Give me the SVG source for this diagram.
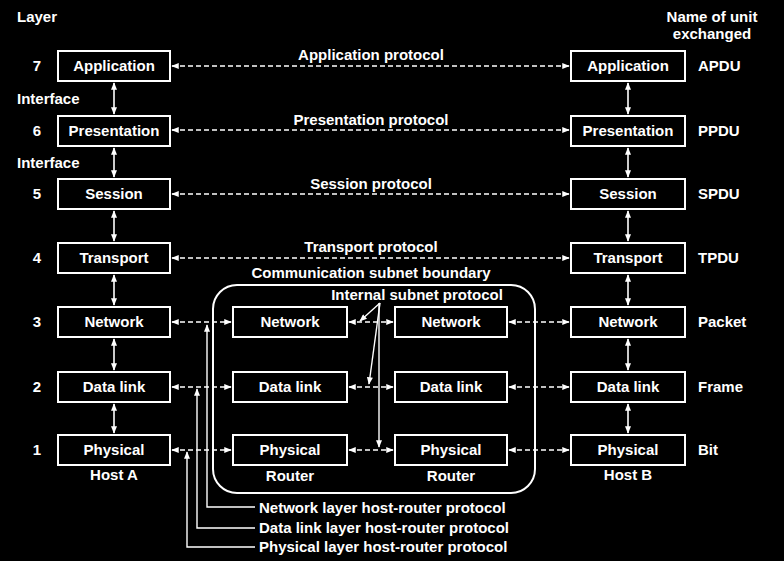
<svg xmlns="http://www.w3.org/2000/svg" width="784" height="561" viewBox="0 0 784 561">
<style>
text{font-family:"Liberation Sans",Arial,sans-serif;font-weight:bold;font-size:15px;fill:#fff}
.c{text-anchor:middle}
.box{fill:none;stroke:#fff;stroke-width:2}
.v{stroke:#fff;stroke-width:1.6;fill:none}
.d{stroke:#fff;stroke-width:1.6;fill:none;stroke-dasharray:5 3}
.s{stroke:#fff;stroke-width:1.4;fill:none}
</style>
<defs>
<marker id="a" viewBox="0 0 10 8" refX="9" refY="4" markerWidth="8" markerHeight="6" markerUnits="userSpaceOnUse" orient="auto-start-reverse">
<path d="M0,0 L10,4 L0,8 Z" fill="#fff"/>
</marker>
</defs>
<rect width="784" height="561" fill="#000"/>
<text x="17" y="22">Layer</text>
<text x="17" y="104">Interface</text>
<text x="17" y="168">Interface</text>
<text class="c" x="712" y="22">Name of unit</text>
<text class="c" x="712" y="39">exchanged</text>
<g id="nums">
<text class="c" x="37" y="71">7</text>
<text class="c" x="37" y="136">6</text>
<text class="c" x="37" y="199">5</text>
<text class="c" x="37" y="263">4</text>
<text class="c" x="37" y="327">3</text>
<text class="c" x="37" y="392">2</text>
<text class="c" x="37" y="455">1</text>
</g>
<g id="units">
<text x="698" y="71">APDU</text>
<text x="698" y="136">PPDU</text>
<text x="698" y="199">SPDU</text>
<text x="698" y="263">TPDU</text>
<text x="698" y="327">Packet</text>
<text x="698" y="392">Frame</text>
<text x="698" y="455">Bit</text>
</g>
<g id="subnet">
<rect x="213" y="285" width="322" height="208" rx="24" class="box"/>
<text class="c" x="371" y="278">Communication subnet boundary</text>
<text class="c" x="417" y="300">Internal subnet protocol</text>
</g>
<g id="hostA">
<g id="a7"><rect class="box" x="58" y="51" width="112" height="30"/><text class="c" x="114" y="71">Application</text></g>
<g id="a6"><rect class="box" x="58" y="116" width="112" height="30"/><text class="c" x="114" y="136">Presentation</text></g>
<g id="a5"><rect class="box" x="58" y="179" width="112" height="30"/><text class="c" x="114" y="199">Session</text></g>
<g id="a4"><rect class="box" x="58" y="243" width="112" height="30"/><text class="c" x="114" y="263">Transport</text></g>
<g id="a3"><rect class="box" x="58" y="307" width="112" height="30"/><text class="c" x="114" y="327">Network</text></g>
<g id="a2"><rect class="box" x="58" y="372" width="112" height="30"/><text class="c" x="114" y="392">Data link</text></g>
<g id="a1"><rect class="box" x="58" y="435" width="112" height="30"/><text class="c" x="114" y="455">Physical</text></g>
<text class="c" x="114" y="480">Host A</text>
</g>
<g id="hostB">
<g id="b7"><rect class="box" x="571" y="51" width="114" height="30"/><text class="c" x="628" y="71">Application</text></g>
<g id="b6"><rect class="box" x="571" y="116" width="114" height="30"/><text class="c" x="628" y="136">Presentation</text></g>
<g id="b5"><rect class="box" x="571" y="179" width="114" height="30"/><text class="c" x="628" y="199">Session</text></g>
<g id="b4"><rect class="box" x="571" y="243" width="114" height="30"/><text class="c" x="628" y="263">Transport</text></g>
<g id="b3"><rect class="box" x="571" y="307" width="114" height="30"/><text class="c" x="628" y="327">Network</text></g>
<g id="b2"><rect class="box" x="571" y="372" width="114" height="30"/><text class="c" x="628" y="392">Data link</text></g>
<g id="b1"><rect class="box" x="571" y="435" width="114" height="30"/><text class="c" x="628" y="455">Physical</text></g>
<text class="c" x="628" y="480">Host B</text>
</g>
<g id="router1">
<rect class="box" x="233" y="307" width="114" height="30"/><text class="c" x="290" y="327">Network</text>
<rect class="box" x="233" y="372" width="114" height="30"/><text class="c" x="290" y="392">Data link</text>
<rect class="box" x="233" y="435" width="114" height="30"/><text class="c" x="290" y="455">Physical</text>
<text class="c" x="290" y="481">Router</text>
</g>
<g id="router2">
<rect class="box" x="395" y="307" width="112" height="30"/><text class="c" x="451" y="327">Network</text>
<rect class="box" x="395" y="372" width="112" height="30"/><text class="c" x="451" y="392">Data link</text>
<rect class="box" x="395" y="435" width="112" height="30"/><text class="c" x="451" y="455">Physical</text>
<text class="c" x="451" y="481">Router</text>
</g>
<g id="labels">
<text class="c" x="371" y="60">Application protocol</text>
<text class="c" x="371" y="125">Presentation protocol</text>
<text class="c" x="371" y="189">Session protocol</text>
<text class="c" x="371" y="252">Transport protocol</text>
<text x="259" y="513">Network layer host-router protocol</text>
<text x="259" y="533">Data link layer host-router protocol</text>
<text x="259" y="552">Physical layer host-router protocol</text>
</g>
<g id="connectors">
<g marker-start="url(#a)" marker-end="url(#a)">
<line class="v" x1="114" y1="83" x2="114" y2="114"/>
<line class="v" x1="114" y1="148" x2="114" y2="177"/>
<line class="v" x1="114" y1="211" x2="114" y2="241"/>
<line class="v" x1="114" y1="275" x2="114" y2="305"/>
<line class="v" x1="114" y1="339" x2="114" y2="370"/>
<line class="v" x1="114" y1="404" x2="114" y2="433"/>
<line class="v" x1="628" y1="83" x2="628" y2="114"/>
<line class="v" x1="628" y1="148" x2="628" y2="177"/>
<line class="v" x1="628" y1="211" x2="628" y2="241"/>
<line class="v" x1="628" y1="275" x2="628" y2="305"/>
<line class="v" x1="628" y1="339" x2="628" y2="370"/>
<line class="v" x1="628" y1="404" x2="628" y2="433"/>
<line class="d" x1="172" y1="66" x2="569" y2="66"/>
<line class="d" x1="172" y1="130" x2="569" y2="130"/>
<line class="d" x1="172" y1="194" x2="569" y2="194"/>
<line class="d" x1="172" y1="258" x2="569" y2="258"/>
<line class="d" x1="172" y1="322" x2="231" y2="322"/>
<line class="d" x1="349" y1="322" x2="393" y2="322"/>
<line class="d" x1="509" y1="322" x2="569" y2="322"/>
<line class="d" x1="172" y1="387" x2="231" y2="387"/>
<line class="d" x1="349" y1="387" x2="393" y2="387"/>
<line class="d" x1="509" y1="387" x2="569" y2="387"/>
<line class="d" x1="172" y1="450" x2="231" y2="450"/>
<line class="d" x1="349" y1="450" x2="393" y2="450"/>
<line class="d" x1="509" y1="450" x2="569" y2="450"/>
</g>
<g marker-end="url(#a)">
<line class="s" x1="380" y1="303" x2="360" y2="321"/>
<line class="s" x1="380" y1="303" x2="369" y2="384"/>
<line class="s" x1="379" y1="303" x2="379" y2="447"/>
<polyline class="s" points="255,507 207,507 207,325"/>
<polyline class="s" points="255,528 197,528 197,389"/>
<polyline class="s" points="255,547 187,547 187,452"/>
</g>
</g>
</svg>
